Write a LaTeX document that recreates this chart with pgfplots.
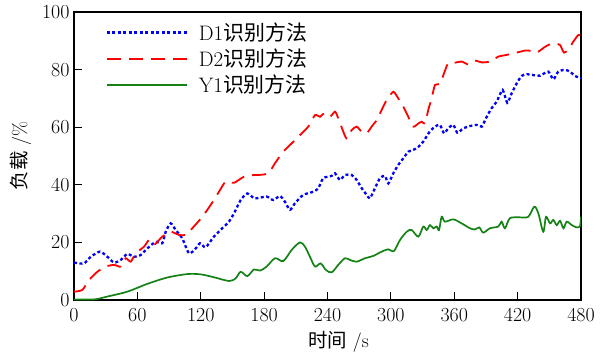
\documentclass[border=0pt]{standalone}
\usepackage{pgfplots}
\pgfplotsset{compat=1.18}
\usepackage{fontspec}
\newfontfamily\cjk{Noto Sans CJK SC}
\definecolor{dblue}{RGB}{0,0,255}
\definecolor{dred}{RGB}{255,0,0}
\definecolor{dgreen}{RGB}{20,130,20}
\begin{document}
\begin{tikzpicture}
\begin{axis}[name=ax, scale only axis, width=507bp, height=288bp,
 xmin=0,xmax=480,ymin=0,ymax=100,
 xtick={0,60,...,480}, ytick={0,20,...,100},
 /pgf/number format/assume math mode=true,
 tick align=inside, xtick pos=bottom, ytick pos=left, major tick length=8bp,
 axis line style={line width=1.4bp}, every tick/.style={black, line width=1.2bp},
 ticklabel style={font=\fontsize{20}{20}\selectfont},
 xticklabel style={yshift=-5bp},
 yticklabel style={xshift=-1bp},
 label style={font=\fontsize{19.5}{19.5}\selectfont},
 xlabel={{\cjk 时间} /s}, ylabel={{\cjk 负载} /\%},
 xlabel style={xshift=11bp}, xlabel shift=2bp, ylabel shift=4bp,
 legend style={at={(rel axis cs:0.062,0.97)}, anchor=north west, draw=none, fill=none,
   font=\fontsize{21}{23}\selectfont, row sep=3bp, column sep=9bp, inner sep=0pt},
 legend cell align=left,
 legend image code/.code={\draw[#1] (0bp,0bp) -- (80bp,0bp);},
]
\addplot[dblue, line width=2.3bp, dash pattern=on 3bp off 2.5bp, smooth, tension=0.4] coordinates {
(0,13) (1.6,12.9) (9.5,12.7) (15.8,15) (24.6,16.8) (31.6,15) (37.9,13) (44.2,13.9) (50.5,16) (56.8,15) (63.1,15.6) (69.4,17.9) (77.3,20.2) (83.6,19.7) (86.8,23.7) (91.5,26.6) (96.3,24.3) (102.5,21.4) (108.9,16.2) (115.2,17.9) (119.3,19.7) (124.6,18.3) (132.5,22) (140.4,24.9) (146.7,27.2) (151.5,30.1) (157.8,34.7) (164.1,37) (170.4,35.3) (173,35.3) (182.4,35.9) (188.7,34.7) (195,36.1) (199.7,34.1) (204.5,31.3) (209.2,33.6) (217.1,36.5) (226.6,37.6) (231.3,38.8) (236,42.3) (244,43.1) (247.1,44) (251.8,41.7) (256.5,43.4) (262.9,43.4) (267.6,41.7) (272.4,38.8) (277.1,36.5) (280.2,35.3) (284.9,38.8) (289.7,42.3) (294.4,43.1) (297.6,40.5) (302.3,44) (307,46.9) (311.8,49.2) (316.5,51.5) (321.2,52.1) (326,53.2) (330.7,55) (337,58.6) (341.8,60.2) (346.5,60.8) (350.3,57.9) (354.3,59.6) (359.1,60.8) (362.9,58.1) (368.6,59.6) (374.9,60.4) (381.2,60.8) (386,60.2) (390.7,63.6) (395.4,66.6) (400.2,68.9) (405.8,72.9) (410.2,68.5) (414.4,71.8) (419.1,75.2) (423.8,77.8) (428.6,78.4) (434.8,78.1) (441.2,77.9) (449,79.3) (453.8,76.6) (458.5,79.3) (464.8,79.9) (469.6,79.3) (474.3,77.8) (480,77)
};
\addlegendentry{D1{\cjk 识别方法}}
\addplot[dred, line width=1.8bp, dash pattern=on 14bp off 8bp, smooth, tension=0.4] coordinates {
(0,2.9) (7.9,3.5) (14.2,6.9) (22.1,9.8) (30,11.6) (37.9,12.2) (44.2,11.6) (48.9,14.5) (53.7,13.3) (58.4,16.2) (66.3,18.5) (71,20.8) (75.7,19.1) (83.6,22) (91.5,23.7) (99.4,22.6) (105.7,22.6) (112,24.9) (121.5,28.9) (129.4,33) (137.3,37.6) (143.6,41.1) (151.5,40.7) (160.9,42.8) (170.4,43.4) (174.5,43.4) (184,44) (190.3,47.5) (198.1,51.5) (206.1,54.4) (214,57.3) (221.8,60.2) (228.2,64.2) (232.9,63.6) (236.7,64.8) (242.3,63.6) (247.1,65.4) (250.2,63.1) (255,58.4) (258.2,56.1) (262.9,59) (267.6,60.2) (272.4,58.4) (277.1,57.9) (281.8,60.2) (286.6,62.5) (291.3,66) (296,69.4) (302.3,72.3) (307,70) (311.8,67.1) (316.5,63.6) (321.2,60.2) (326,61.3) (329.2,61.9) (332.3,61.3) (335.4,66) (338.6,70) (341.8,74.7) (346.5,75) (350.3,78.7) (354.3,82.2) (360.7,82.4) (367,82.8) (373.3,81.8) (379.6,83.1) (386,82.5) (393.8,82.8) (401.7,84.5) (409.6,85.1) (419.1,85.9) (427,86.6) (433.3,86.5) (438.1,85.9) (445.9,87.9) (450.7,88.8) (455.4,89.1) (460.2,88.5) (463.9,85.9) (468,87) (472.7,89.7) (477.4,92) (480,91.7)
};
\addlegendentry{D2{\cjk 识别方法}}
\addplot[dgreen, line width=1.7bp, smooth, tension=0.5] coordinates {
(0,0.2) (18.9,0.2) (31.6,1.2) (50.5,2.9) (69.4,5.6) (88.3,7.8) (107.3,9) (119.9,8.9) (132.5,7.9) (146.7,6.6) (153,7.5) (157.8,9.8) (164.1,8.3) (170.4,10.6) (176.1,10.2) (182.4,11.6) (190.3,14.5) (198.1,13.5) (206.1,17.4) (214,20) (218.7,18.5) (223.4,15) (228.2,11.6) (233.5,12.7) (238.6,10.4) (244,9.6) (250.2,12.2) (256.5,14.5) (261.3,13.9) (267.6,13.3) (275.5,14.5) (283.4,15.3) (291.3,16.8) (297.6,17.6) (302.9,17) (308.6,20.8) (315,23.7) (319.7,24.3) (326,22) (330.7,25.5) (333.9,24.3) (337,26) (340.2,24.9) (343.4,25.5) (345.6,24.3) (348.1,28.9) (351.2,27.2) (359.1,28) (367,26.6) (374.9,24.9) (379.6,24.5) (383.7,25.2) (387.5,23.4) (393.8,24.9) (401.7,25.5) (404.9,27.2) (408,24.9) (412.7,28.4) (422.2,28.7) (430.1,28.9) (435.8,32.4) (439.6,30.1) (444.3,23.7) (446.9,28.9) (450.7,26.6) (453.8,27.8) (457,26) (460.2,27.5) (463.4,24.9) (466.5,27.2) (471.3,26) (476,25.2) (479.1,25.7) (480,28.9)
};
\addlegendentry{Y1{\cjk 识别方法}}
\end{axis}
\pgfresetboundingbox
\path[use as bounding box] (ax.south west) ++(-74bp,-54bp) rectangle ++(609bp,354bp);
\end{tikzpicture}
\end{document}
